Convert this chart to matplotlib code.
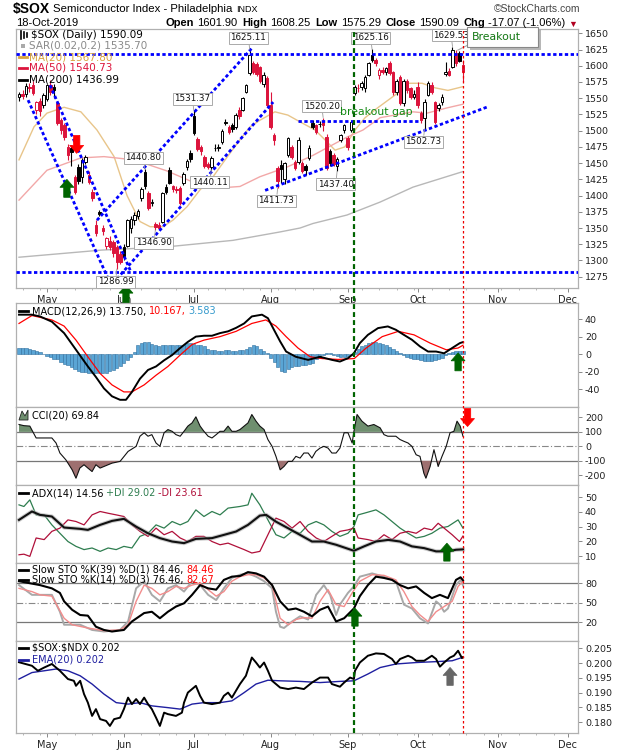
import numpy as np
import pandas as pd
import matplotlib
matplotlib.use("Agg")
import matplotlib.pyplot as plt
import matplotlib.transforms as mtransforms
import matplotlib.patheffects as pe
from matplotlib.patches import Rectangle, Polygon
from matplotlib.lines import Line2D
from matplotlib.text import Annotation

plt.rcParams['font.family'] = ['DejaVu Sans']

# ---------------- data ----------------
first_day = '2019-04-18'
last_axis_day = '2019-12-31'
market_holidays = ['2019-04-19', '2019-05-27', '2019-07-04', '2019-09-02', '2019-11-28', '2019-12-25']

opens = [1552, 1556, 1557, 1568, 1570, 1532, 1545, 1540, 1548, 1570,
         1568, 1543, 1516, 1509, 1475, 1474, 1428, 1444, 1428, 1452,
         1432, 1405, 1355, 1374, 1350, 1322, 1330, 1328, 1321, 1310,
         1320, 1322, 1350, 1362, 1368, 1396, 1436, 1404, 1388, 1356,
         1355, 1360, 1413, 1439, 1414, 1410, 1411, 1419, 1444, 1466,
         1523, 1487, 1475, 1459, 1448, 1444, 1474, 1474, 1482, 1514,
         1505, 1509, 1505, 1532, 1532, 1560, 1589, 1604, 1602, 1598,
         1572, 1581, 1539, 1493, 1443, 1447, 1425, 1462, 1475, 1452,
         1452, 1450, 1445, 1458, 1512, 1508, 1510, 1514, 1490, 1468,
         1462, 1445, 1485, 1501, 1488, 1501, 1558, 1566, 1568, 1566,
         1586, 1616, 1609, 1586, 1594, 1590, 1604, 1590, 1559, 1583,
         1543, 1576, 1565, 1552, 1567, 1527, 1519, 1555, 1570, 1544,
         1535, 1544, 1587, 1592, 1598, 1619, 1619, 1601.90]
highs = [1560, 1562, 1573, 1574, 1576, 1546, 1550, 1558, 1572, 1578,
         1572, 1546, 1520, 1512, 1480, 1478, 1432, 1449, 1458, 1462,
         1438, 1410, 1362, 1378, 1354, 1336, 1338, 1332, 1324, 1314,
         1325, 1364, 1368, 1374, 1380, 1413, 1440.80, 1407, 1395, 1360,
         1360, 1406, 1418, 1444, 1416, 1414, 1414, 1436, 1457, 1470,
         1531.37, 1490, 1478, 1462, 1452, 1461, 1480, 1479, 1503, 1518,
         1508, 1512, 1527, 1536, 1552, 1572, 1625.11, 1608, 1606, 1600,
         1590, 1584, 1560, 1497, 1446, 1455, 1452, 1490, 1478, 1455,
         1490, 1453, 1448, 1478, 1516, 1510, 1515, 1520.20, 1495, 1472,
         1466, 1460, 1495, 1511, 1492, 1515, 1570, 1572, 1577, 1586,
         1606, 1625.16, 1612, 1596, 1598, 1598, 1608, 1592, 1580, 1586,
         1580, 1580, 1568, 1562, 1575, 1530, 1548, 1576, 1575, 1546,
         1542, 1556, 1606, 1596, 1629.53, 1624, 1622, 1608.25]
lows = [1546, 1548, 1552, 1560, 1555, 1525, 1522, 1535, 1545, 1555,
        1550, 1508, 1495, 1485, 1455, 1445, 1403, 1418, 1420, 1448,
        1418, 1392, 1338, 1368, 1340, 1318, 1316, 1306, 1286.99, 1294,
        1300, 1320, 1342, 1355, 1364, 1392, 1410, 1378, 1384, 1346.90,
        1348, 1358, 1402, 1418, 1405, 1404, 1386, 1416, 1440, 1452,
        1494, 1468, 1462, 1442, 1441, 1440.11, 1468, 1469, 1480, 1508,
        1495, 1498, 1502, 1518, 1530, 1558, 1586, 1588, 1584, 1573,
        1568, 1536, 1502, 1478, 1411.73, 1420, 1418, 1460, 1456, 1440,
        1448, 1434, 1432, 1455, 1503, 1495, 1506, 1500, 1440, 1445,
        1445, 1437.40, 1482, 1496, 1470, 1498, 1555, 1560, 1562, 1560,
        1584, 1605, 1600, 1580, 1588, 1585, 1586, 1555, 1555, 1540,
        1538, 1558, 1548, 1548, 1535, 1512, 1502.73, 1553, 1556, 1510,
        1530, 1540, 1584, 1584, 1596, 1600, 1606, 1575.29]
closes = [1556, 1553, 1569, 1565, 1558, 1544, 1530, 1555, 1570, 1560,
          1562, 1512, 1501, 1490, 1462, 1467, 1406, 1422, 1455, 1459,
          1421, 1396, 1342, 1372, 1346, 1334, 1320, 1311, 1298, 1297,
          1305, 1362, 1364, 1370, 1376, 1410, 1414, 1381, 1390, 1351,
          1350, 1404, 1406, 1420, 1410, 1408, 1389, 1433, 1454, 1456,
          1497, 1471, 1468, 1445, 1444, 1458, 1473, 1475, 1500, 1512,
          1498, 1502, 1524, 1522, 1550, 1570, 1617, 1590, 1588, 1577,
          1585, 1539, 1506, 1486, 1422, 1441, 1450, 1488, 1460, 1443,
          1486, 1438, 1440, 1474, 1506, 1498, 1511, 1509, 1443, 1450,
          1448, 1457, 1493, 1509, 1475, 1513, 1567, 1565, 1574, 1583,
          1604, 1609, 1604, 1593, 1591, 1596, 1589, 1559, 1576, 1543,
          1576, 1562, 1552, 1557, 1539, 1516, 1544, 1573, 1559, 1513,
          1540, 1552, 1590, 1586, 1624, 1604, 1607, 1590.09]

# moving averages (trading-day position, value)
ma20_pos = [0, 4.3, 8.0, 12.9, 17.7, 22.3, 27.2, 30.9, 34.6, 37.5, 41.2, 44.0, 48.1, 51.8, 55.5, 59.5, 63.2,
            66.1, 68.9, 73.2, 76.9, 80.9, 84.7, 87.5, 90.4, 93.2, 96.1, 99.0, 101.8, 107.6, 111.3, 115.3, 119.0, 122.7, 127]
ma20_val = [1455, 1506, 1527, 1536, 1529, 1501, 1460, 1400, 1360, 1352, 1352, 1362, 1383, 1409, 1429, 1459, 1486,
            1506, 1516, 1529, 1524, 1512, 1501, 1486, 1470, 1475, 1501, 1520, 1532, 1555, 1573, 1573, 1566, 1562, 1567.80]
ma50_pos = [0, 8, 17.7, 24.3, 32.9, 42.3, 51.8, 58, 63.2, 68.9, 76.7, 84.1, 93.8, 98.4, 103.3, 112.7, 116.7, 122.4, 127]
ma50_val = [1393, 1439, 1458, 1460, 1455, 1438, 1416, 1412, 1414, 1429, 1444, 1462, 1490, 1501, 1520, 1529, 1527, 1535, 1540.73]
ma200_pos = [0, 23.6, 42.3, 61.2, 74.7, 80.4, 84.1, 93.8, 103.3, 112.7, 127]
ma200_val = [1305, 1316, 1321, 1331, 1344, 1350, 1357, 1370, 1390, 1413, 1436.99]

# MACD
macd_pos = [0, 3.7, 6.0, 9.4, 12.9, 16.3, 19.7, 22.0, 24.3, 26.6, 28.9, 30.6, 32.3, 34.6, 36.9, 39.2, 41.5, 43.8,
            46.1, 48.3, 50.6, 52.9, 55.2, 57.5, 59.8, 62.1, 64.4, 66.6, 69.5, 71.2, 72.9, 74.7, 76.4, 79.2, 82.7,
            86.1, 89.5, 91.8, 94.1, 95.8, 97.5, 99.8, 102.7, 105.5, 107.8, 110.1, 112.4, 114.7, 117.0, 119.3,
            121.6, 123.9, 126.1, 127]
macd_val = [45, 45, 43, 37, 24, 5, -14, -26, -39, -48, -52, -52, -43, -28, -18, -14, -7, -1, 7, 14, 20, 21, 21,
            24, 26, 30, 35, 43, 45, 41, 28, 14.5, 3, -3, -6.5, -3, -6.5, -8.4, -4.6, 1, 12.6, 22, 29.7, 31.6,
            27.8, 22, 16.4, 8.8, 3, 3, 1, 7, 12.6, 13.75]
signal_pos = [0, 3.7, 9.4, 12.9, 16.3, 19.7, 23.2, 26.6, 30.0, 32.3, 35.8, 39.2, 42.6, 46.1, 49.5, 52.9, 57.5,
              62.1, 66.6, 70.6, 73.5, 76.4, 79.8, 83.3, 86.7, 91.3, 95.9, 99.3, 103.9, 108.5, 113.0, 117.6,
              122.2, 125.6, 127]
signal_val = [35, 44, 39, 32, 16, -3, -22, -35, -43, -43, -35, -24, -14, -1, 11, 16, 20, 26, 35, 39, 32, 20, 7,
              -3, -5, -6, -5, 7, 20, 26, 22, 12.6, 5, 7, 10.167]
macd_hist = [7, 7, 7, 6, 5, 4, 2, 0, -2, -3,
             -5, -6, -9, -11, -12, -15, -17, -19, -20, -20,
             -21, -22, -22, -22, -21, -21, -19, -18, -16, -13,
             -10, -7, -3, 3, 10, 13, 14, 14, 12, 10,
             9, 10, 11, 11, 11, 10, 11, 11, 13, 13,
             12, 11, 10, 9, 6, 5, 5, 4, 4, 5,
             5, 4, 4, 5, 5, 6, 8, 10, 9, 6,
             4, 1, -4, -9, -15, -19, -20, -17, -15, -14,
             -13, -12, -12, -11, -10, -6, -4, -1, 1, 1,
             -1, -2, -3, -3, -2, -1, 3, 6, 9, 11,
             13, 14, 14, 13, 12, 10, 8, 6, 4, 1,
             -1, -3, -4, -5, -6, -7, -8, -8, -8, -7,
             -5, -4, -1, 1, 3, 4, 4, 3.583]

# CCI(20)
cci_pos = [0, 1.4, 3.1, 4.9, 6.0, 9.4, 10.6, 11.7, 13.4, 15.2, 16.3, 17.4, 18.6, 19.7, 20.9, 22.0, 23.2, 24.3,
           26.6, 28.9, 31.2, 33.5, 34.6, 35.8, 36.9, 38.0, 39.2, 40.3, 41.5, 42.6, 43.8, 44.9, 46.1, 47.2, 48.3,
           49.5, 50.6, 51.8, 52.9, 54.1, 55.2, 56.4, 57.5, 58.6, 59.8, 60.9, 62.1, 63.2, 64.4, 65.5, 66.6, 67.8,
           68.9, 70.1, 71.2, 72.4, 73.5, 74.7, 75.8, 77.0, 78.1, 79.2, 80.4, 81.5, 82.7, 83.8, 84.9, 86.1, 87.2,
           88.4, 89.5, 90.7, 91.8, 93.0, 94.1, 95.3, 95.8, 96.7, 98.1, 99.8, 101.5, 103.3, 104.4, 105.5, 107.8,
           109.0, 110.1, 111.3, 112.4, 113.6, 114.7, 115.8, 116.4, 117.6, 118.7, 119.9, 121.0, 122.2, 123.3,
           124.4, 125.3, 126.2, 127]
cci_val = [151, 143, 140, 58, 58, 58, 23, -46, -93, -162, -220, -150, -127, -150, -174, -127, -150, -139,
           -116, -104, -35, 0, 70, 94, 70, 81, 23, 0, 94, 116, 104, 81, 70, 104, 140,
           162, 204, 140, 104, 70, 58, 81, 104, 104, 140, 104, 104, 116, 140, 162, 220, 174,
           140, 116, 47, 0, -69, -162, -139, -104, -104, -69, -81, -46, -46, -81, -35, -12, 0,
           -12, -46, -46, -12, 94, 94, 23, 104, 220, 174, 140, 151, 128, 81, 70, 70,
           47, 35, 23, 0, -58, -69, -185, -220, -139, -23, -139, -69, 0, 94,
           104, 174, 140, 69.84]

# ADX(14)
adx_pos = [0, 3.7, 6.0, 9.4, 12.9, 17.5, 19.7, 23.2, 26.6, 30.0, 33.5, 36.9, 40.3, 43.8, 47.2, 50.6, 55.2, 58.6,
           62.1, 65.5, 68.9, 70.7, 73.5, 77.0, 80.4, 83.8, 87.2, 90.7, 95.8, 98.7, 102.1, 105.6, 109.0, 112.4,
           115.9, 119.3, 122.7, 125.0, 127]
adx_val = [34.6, 40.3, 38, 36.9, 29.4, 28.5, 27.8, 31.2, 33.9, 35.3, 30, 25.5, 22.2, 19.9, 18.8, 21.7, 22.2, 24.4,
           26.7, 31.2, 37.5, 38, 33.4, 28.9, 24.4, 19.9, 19.9, 17.7, 13.6, 16.6, 19.9, 21, 19.9, 16.6,
           15.4, 13.2, 13.2, 14.3, 14.56]
pdi_pos = [0, 1.4, 3.1, 4.9, 7.2, 9.4, 11.7, 14.0, 16.3, 18.6, 20.9, 23.2, 25.5, 27.8, 30.0, 32.3, 34.6, 36.9,
           39.2, 41.5, 43.8, 46.1, 48.3, 50.6, 52.9, 55.2, 57.5, 59.8, 63.2, 65.5, 66.6, 68.9, 71.2, 73.5, 75.8,
           78.1, 80.4, 82.7, 85.0, 87.2, 89.5, 91.8, 94.1, 95.8, 97.0, 98.7, 102.1, 104.4, 106.7, 109.0, 111.3,
           113.6, 115.9, 118.1, 120.4, 122.7, 125.6, 127]
pdi_val = [44.8, 43.7, 48.2, 38, 38, 31.2, 25.5, 19.9, 16.6, 14.4, 15.5, 13.2, 15.5, 14.4, 16.6, 15.5, 23.4, 25.5,
           31.2, 29, 33.5, 31.2, 33.5, 41.4, 36.9, 40.3, 38, 42.6, 43.7, 44.8, 52.7, 44.8, 34.6, 24.5, 22.3,
           26.8, 25.5, 31.2, 33.5, 31.2, 26.8, 23.4, 25.5, 30.1, 38, 39.1, 41.4, 38, 33.5, 29, 25.5,
           22.3, 23.4, 25.5, 29, 30.1, 34.6, 29.02]
mdi_pos = [0, 1.4, 3.1, 4.9, 7.2, 9.4, 11.7, 14.0, 16.3, 18.6, 20.9, 23.2, 25.5, 27.8, 30.0, 32.3, 34.6, 36.9,
           39.2, 41.5, 43.8, 46.1, 48.3, 50.6, 52.9, 55.2, 57.5, 59.8, 62.1, 64.4, 66.6, 68.9, 71.2, 73.5, 75.8,
           78.1, 80.4, 82.7, 85.0, 87.2, 89.5, 91.8, 94.1, 95.8, 97.0, 99.8, 102.1, 104.4, 106.7, 109.0, 111.3,
           113.6, 115.9, 118.1, 119.9, 121.6, 123.9, 126.0, 127]
mdi_val = [10.9, 11.3, 9.8, 22.3, 21.2, 26.8, 29, 34.6, 33.5, 31.2, 38, 40.3, 39.1, 38, 36.9, 31.2, 26.8, 23.4,
           29, 24.5, 26.8, 22.3, 19.9, 23.4, 23.4, 19.9, 17.7, 18.8, 16.6, 14.4, 12.1, 13.2, 24.5, 35.8, 33.5,
           29, 33.5, 26.8, 22.3, 19.9, 23.4, 26.8, 27.8, 29, 22.3, 21.2, 19.9, 24.5, 21.2, 25.5, 26.8,
           25.5, 29, 27.8, 32.3, 29, 24.5, 19.9, 23.61]

# Slow stochastics
sto39_pos = [0, 6.0, 9.4, 11.7, 12.9, 15.2, 17.5, 19.7, 22.0, 24.3, 26.6, 30.0, 32.3, 35.8, 38.0, 40.3, 42.6,
             44.9, 47.2, 49.5, 51.8, 54.1, 56.4, 58.6, 60.9, 63.2, 65.5, 67.8, 70.1, 72.4, 74.7, 77.0, 79.2,
             81.5, 83.8, 86.1, 88.4, 90.7, 93.0, 95.8, 97.5, 99.8, 102.1, 104.4, 106.7, 109.0, 111.3, 113.6,
             115.9, 118.1, 120.4, 122.7, 125.0, 126.3, 127]
sto39_val = [83, 77, 72, 65, 52, 39, 31, 30, 13, 8, 5.6, 8, 21, 34, 36, 26, 36, 44, 49, 62, 77, 72, 70, 85, 90,
             91, 97, 95, 90, 77, 52, 39, 41, 36, 29, 39, 44, 21, 26, 41, 60, 77, 90, 88, 85, 77, 72, 75, 65,
             57, 62, 57, 85, 89, 84.46]
sto14k_pos = [0, 3.7, 6.0, 9.4, 11.7, 12.9, 17.5, 20.9, 24.3, 28.9, 31.2, 33.5, 35.8, 38.0, 40.3, 42.6, 44.9,
              47.2, 49.5, 51.8, 54.1, 56.4, 58.6, 60.9, 63.2, 65.5, 67.8, 70.1, 72.4, 73.5, 74.7, 75.8, 78.1,
              80.4, 82.7, 85.0, 87.2, 89.0, 90.7, 91.8, 94.1, 95.8, 97.5, 101.0, 104.4, 107.8, 110.1, 112.4,
              114.7, 117.0, 119.3, 120.4, 121.6, 122.7, 125.0, 126.3, 127]
sto14k_val = [77, 62, 62, 62, 36, 16, 16, 8, 5.6, 8, 21, 72, 83, 62, 52, 72, 77, 67, 83, 77, 62, 54, 72, 88,
              93, 95, 90, 83, 72, 36, 13, 11, 21, 29, 24, 62, 77, 62, 31, 47, 65, 75, 90, 95, 90, 83, 47, 41,
              26, 18, 52, 47, 36, 41, 77, 85, 76.46]
sto14d_pos = [0, 3.7, 6.0, 9.4, 12.9, 15.2, 19.7, 24.3, 28.9, 31.2, 33.5, 35.8, 38.0, 40.3, 42.6, 44.9, 47.2,
              49.5, 51.8, 54.1, 56.4, 58.6, 60.9, 63.2, 65.5, 67.8, 70.1, 72.4, 74.7, 77.0, 79.2, 81.5, 83.8,
              86.1, 88.4, 90.7, 93.0, 95.3, 97.5, 101.0, 104.4, 107.8, 110.1, 112.4, 114.7, 117.0, 119.3, 121.6,
              123.9, 125.6, 127]
sto14d_val = [72, 67, 62, 60, 26, 16, 11, 7, 8, 16, 52, 77, 72, 62, 67, 75, 72, 77, 80, 70, 60, 67, 83, 90,
              93, 93, 88, 77, 26, 16, 24, 27, 26, 52, 70, 47, 44, 65, 83, 93, 92, 85, 67, 44, 31, 21, 36, 44,
              52, 75, 82.67]

# $SOX:$NDX ratio and its EMA(20)
ratio_pos = [0, 3.7, 5.4, 7.2, 9.4, 11.7, 14.0, 15.7, 16.3, 17.5, 18.6, 19.7, 20.9, 22.0, 23.2, 24.9, 26.0,
             27.2, 28.9, 30.0, 31.2, 32.3, 33.5, 34.6, 35.8, 36.9, 38.0, 39.2, 40.3, 41.5, 42.6, 44.9, 46.6,
             47.2, 48.3, 50.6, 51.8, 52.9, 55.2, 57.5, 58.6, 59.8, 60.9, 63.2, 64.9, 66.6, 67.8, 68.9, 70.1,
             71.2, 72.4, 74.7, 77.0, 79.2, 81.5, 83.8, 86.1, 88.4, 89.5, 91.8, 93.0, 94.7, 95.8, 96.1, 97.5,
             99.8, 102.1, 104.4, 106.7, 107.8, 109.0, 111.3, 112.4, 113.6, 115.9, 118.1, 119.3, 120.4, 121.6,
             123.3, 124.4, 125.6, 126.7, 127]
ratio_val = [0.2003, 0.1991, 0.1974, 0.1985, 0.1997, 0.1974, 0.1946, 0.1940, 0.1923, 0.1940, 0.1895, 0.1866,
             0.1821, 0.1844, 0.1810, 0.1804, 0.1787, 0.1810, 0.1815, 0.1844, 0.1883, 0.1861, 0.1878, 0.1861,
             0.1883, 0.1861, 0.1844, 0.1815, 0.1787, 0.1832, 0.1827, 0.1821, 0.1832, 0.1866, 0.1900, 0.1923,
             0.1889, 0.1866, 0.1861, 0.1866, 0.1889, 0.1900, 0.1883, 0.1929, 0.1957, 0.2019, 0.2002, 0.1985,
             0.2002, 0.1974, 0.1940, 0.1917, 0.1912, 0.1917, 0.1912, 0.1934, 0.1951, 0.1951, 0.1929, 0.1920,
             0.1934, 0.1951, 0.1946, 0.1974, 0.2002, 0.2025, 0.2033, 0.2031, 0.2014, 0.1997, 0.2014, 0.2025,
             0.2019, 0.2008, 0.2008, 0.2025, 0.2014, 0.1988, 0.2002, 0.2019, 0.2025, 0.2042, 0.2017, 0.2020]
ema_pos = [0, 3.7, 7.2, 10.6, 14.0, 17.5, 20.9, 24.3, 27.8, 31.2, 34.6, 38.0, 42.6, 46.1, 49.5, 52.9, 57.5,
           60.9, 64.4, 67.8, 71.2, 74.7, 80.4, 86.1, 91.8, 95.8, 99.8, 103.3, 107.8, 113.6, 119.3, 123.9, 127]
ema_val = [0.1946, 0.1968, 0.1974, 0.1980, 0.1974, 0.1957, 0.1929, 0.1895, 0.1866, 0.1861, 0.1866, 0.1855,
           0.1849, 0.1844, 0.1861, 0.1866, 0.1866, 0.1872, 0.1900, 0.1929, 0.1942, 0.1940, 0.1938, 0.1934,
           0.1938, 0.1940, 0.1963, 0.1985, 0.1997, 0.2002, 0.2005, 0.2008, 0.2020]

# annotated price extremes (candle position, which end)
label_days = [66, 50, 36, 55, 39, 28, 74, 87, 91, 101, 116, 124]
label_side = ['high', 'high', 'high', 'low', 'low', 'low', 'low', 'high', 'low', 'high', 'low', 'high']

# hand-drawn trend lines (position, price)
trend_x0 = [2.6, 8.9, 22.3, 26.9, 70.4]
trend_y0 = [1547, 1570, 1362, 1265, 1408]
trend_x1 = [26.9, 31.8, 66.6, 72.7, 134.2]
trend_y1 = [1255, 1285, 1627, 1544, 1537]
level_lines = [1618, 1282]
gap_level, gap_x0, gap_x1 = 1515, 79.8, 114.7
breakout_pos = 95.7
last_pos = 127

# ---------------- layout ----------------
days = pd.bdate_range(first_day, last_axis_day)
days = days[~days.isin(pd.to_datetime(market_holidays))]
N = len(closes)
xi = np.arange(N)

W, H = 620.0, 750.0
PL, PR = 16.0, 578.0
fig = plt.figure(figsize=(W / 100, H / 100), dpi=100)
fig.patch.set_facecolor('white')


def rect(top, bottom):
    return [PL / W, 1 - bottom / H, (PR - PL) / W, (bottom - top) / H]


ax_p = fig.add_axes(rect(29, 288))
ax_m = fig.add_axes(rect(303, 407))
ax_c = fig.add_axes(rect(407, 485))
ax_a = fig.add_axes(rect(485, 563))
ax_s = fig.add_axes(rect(563, 641))
ax_r = fig.add_axes(rect(641, 733))

XMIN, XMAX = -0.86, 159.9
month_pos = [i for i in range(1, len(days)) if days[i].month != days[i - 1].month]
month_lbl = [days[i].strftime('%b') for i in month_pos]
week_pos = [i for i in range(1, len(days)) if days[i].weekday() < days[i - 1].weekday() and i < XMAX]

RED = '#dc143c'
BLACK = '#000000'


def style(ax, yt, ylim, fmt='{:g}', xlabels=False):
    ax.set_yticks(yt)
    ax.set_yticklabels([fmt.format(v) for v in yt])
    ax.yaxis.tick_right()
    ax.tick_params(axis='y', which='both', labelsize=6.8, length=3, width=0.7, color='#888888',
                   labelcolor='#222222', pad=2)
    ax.set_xticks(month_pos)
    ax.set_xticks(week_pos, minor=True)
    ax.set_xticklabels(month_lbl if xlabels else [])
    ax.tick_params(axis='x', which='major', length=3, width=0.7, color='#888888', labelsize=7,
                   labelcolor='#222222', pad=2)
    ax.tick_params(axis='x', which='minor', length=1.5, width=0.6, color='#aaaaaa')
    for s in ax.spines.values():
        s.set_color('#b0b0b0')
        s.set_linewidth(0.9)
    ax.set_xlim(XMIN, XMAX)
    ax.set_ylim(*ylim)


def block_arrow(ax, x, y, up, color):
    wh, ws, hh, ht = 0.07, 0.032, 0.08, 0.18
    s = -1 if up else 1
    verts = [(0, 0), (-wh, s * hh), (-ws, s * hh), (-ws, s * ht), (ws, s * ht), (ws, s * hh), (wh, s * hh)]
    tr = fig.dpi_scale_trans + mtransforms.ScaledTranslation(x, y, ax.transData)
    ax.add_patch(Polygon(verts, closed=True, transform=tr, facecolor=color, edgecolor=color, lw=0.5,
                         zorder=8, clip_on=False))


# ---------------- price panel ----------------
for i in range(N):
    o, h, l, c = opens[i], highs[i], lows[i], closes[i]
    prev = closes[i - 1] if i > 0 else o
    col = BLACK if c >= prev else RED
    ax_p.vlines(i, l, h, color=col, lw=0.8, zorder=3)
    bottom = min(o, c)
    height = max(abs(c - o), 0.8)
    face = 'white' if c > o else col
    ax_p.add_patch(Rectangle((i - 0.36, bottom), 0.72, height, facecolor=face, edgecolor=col, lw=0.7, zorder=4))

ax_p.plot(ma20_pos, ma20_val, color='#e8c58a', lw=1.0, zorder=2)
ax_p.plot(ma50_pos, ma50_val, color='#f2a8a8', lw=1.0, zorder=2)
ax_p.plot(ma200_pos, ma200_val, color='#b8b8b8', lw=1.0, zorder=2)

blue_ls = (0, (1.2, 0.9))
for x0, y0, x1, y1 in zip(trend_x0, trend_y0, trend_x1, trend_y1):
    ax_p.plot([x0, x1], [y0, y1], color='#0000ff', lw=2.0, linestyle=blue_ls, zorder=5)
for lv in level_lines:
    ax_p.axhline(lv, color='#0000ff', lw=2.0, linestyle=blue_ls, zorder=5)
ax_p.plot([gap_x0, gap_x1], [gap_level, gap_level], color='#0000ff', lw=2.0, linestyle=blue_ls, zorder=5)

for i, side in zip(label_days, label_side):
    if side == 'high':
        val, dy, va = highs[i], 5, 'bottom'
    else:
        val, dy, va = lows[i], -6, 'top'
    ax_p.annotate(f'{val:.2f}', xy=(i, val), xytext=(-1, dy), textcoords='offset points', ha='center', va=va,
                  fontsize=6.3, color='#111111',
                  bbox=dict(boxstyle='square,pad=0.18', fc='white', ec='#aaaaaa', lw=0.7),
                  arrowprops=dict(arrowstyle='-', color='#999999', lw=0.6, shrinkA=0, shrinkB=0),
                  zorder=9, annotation_clip=False)

ax_p.text(91.8, 1529, 'breakout gap', color='#118811', fontsize=7.8, ha='left', va='center', zorder=9)

block_arrow(ax_p, 13.7, 1425, True, '#006400')
block_arrow(ax_p, 16.5, 1465, False, '#ff0000')
block_arrow(ax_p, 30.6, 1262, True, '#006400')

style(ax_p, list(range(1275, 1651, 25)), (1257.6, 1656.6), xlabels=True)

# ---------------- MACD ----------------
ax_m.bar(xi, macd_hist, width=0.9, color='#5aa5d5', edgecolor='#2f6f9f', linewidth=0.4, zorder=2)
ax_m.plot(signal_pos, signal_val, color='#ff0000', lw=0.9, zorder=3)
ax_m.plot(macd_pos, macd_val, color='#000000', lw=1.4, zorder=4)
block_arrow(ax_m, 125.6, 1.5, True, '#006400')
style(ax_m, [-40, -20, 0, 20, 40], (-60.2, 58.3))

# ---------------- CCI ----------------
cp = np.array(cci_pos)
cv = np.array(cci_val)
ax_c.fill_between(cp, 100, cv, where=cv > 100, interpolate=True, color='#6f8f6f', lw=0, zorder=2)
ax_c.fill_between(cp, -100, cv, where=cv < -100, interpolate=True, color='#9e7070', lw=0, zorder=2)
ax_c.axhline(100, color='#777777', lw=0.9, zorder=1)
ax_c.axhline(-100, color='#777777', lw=0.9, zorder=1)
ax_c.axhline(0, color='#888888', lw=0.8, linestyle=(0, (6, 2, 1, 2)), zorder=1)
ax_c.plot(cp, cv, color='#111111', lw=0.8, zorder=3)
block_arrow(ax_c, 128.3, 137, False, '#ff0000')
style(ax_c, [-200, -100, 0, 100, 200], (-267, 272))

# ---------------- ADX ----------------
ax_a.plot(pdi_pos, pdi_val, color='#2e7d4f', lw=0.9, zorder=2)
ax_a.plot(mdi_pos, mdi_val, color='#b0103a', lw=0.9, zorder=2)
ax_a.plot(adx_pos, adx_val, color='#aaaaaa', lw=3.0, zorder=3, alpha=0.6)
ax_a.plot(adx_pos, adx_val, color='#111111', lw=1.5, zorder=4)
block_arrow(ax_a, 122.4, 18.8, True, '#006400')
style(ax_a, [10, 20, 30, 40, 50], (5.3, 58.3))

# ---------------- Stochastics ----------------
ax_s.axhline(80, color='#777777', lw=0.9, zorder=1)
ax_s.axhline(20, color='#777777', lw=0.9, zorder=1)
ax_s.axhline(50, color='#888888', lw=0.8, linestyle=(0, (6, 2, 1, 2)), zorder=1)
ax_s.plot(sto14k_pos, sto14k_val, color='#a8a8a8', lw=1.4, zorder=2)
ax_s.plot(sto14d_pos, sto14d_val, color='#f28c8c', lw=1.0, zorder=3)
ax_s.plot(sto39_pos, sto39_val, color='#000000', lw=1.5, zorder=4)
block_arrow(ax_s, 96.1, 41.5, True, '#006400')
style(ax_s, [20, 50, 80], (-9, 111))

# ---------------- Ratio ----------------
ax_r.plot(ema_pos, ema_val, color='#1f1fa0', lw=1.0, zorder=2)
ax_r.plot(ratio_pos, ratio_val, color='#000000', lw=1.4, zorder=3)
block_arrow(ax_r, 123.3, 0.19854, True, '#666666')
style(ax_r, [0.180, 0.185, 0.190, 0.195, 0.200, 0.205], (0.1763, 0.2075), fmt='{:.3f}', xlabels=True)

# ---------------- vertical markers across panels ----------------
blend = mtransforms.blended_transform_factory(ax_p.transData, fig.transFigure)
top_f, bot_f = 1 - 29 / H, 1 - 733 / H
fig.add_artist(Line2D([breakout_pos, breakout_pos], [bot_f, top_f], transform=blend, color='#006400', lw=1.6,
                      linestyle=(0, (2.2, 1.4)), zorder=6))
fig.add_artist(Line2D([last_pos, last_pos], [bot_f, top_f], transform=blend, color='#ee0000', lw=0.9,
                      linestyle=(0, (2.0, 2.0)), zorder=6))

# ---------------- Breakout callout ----------------
box = Rectangle((467 / W, 1 - 47 / H), 71 / W, 20 / H, transform=fig.transFigure, facecolor='white',
                edgecolor='#888888', lw=0.8, zorder=10)
box.set_path_effects([pe.SimplePatchShadow(offset=(2, -2), shadow_rgbFace='#888888', alpha=0.6), pe.Normal()])
fig.add_artist(box)
ax_p.annotate('', xy=(125.5, highs[125]), xytext=(468 / W, 1 - 45 / H), textcoords='figure fraction',
              arrowprops=dict(arrowstyle='-', color='#aaaaaa', lw=0.8, shrinkA=0, shrinkB=0),
              annotation_clip=False, zorder=9)
fig.text(472 / W, 1 - 37 / H, 'Breakout', color='#117711', fontsize=7.8, ha='left', va='center', zorder=11)


# ---------------- texts ----------------
def fx(px):
    return px / W


def fy(py):
    return 1 - py / H


def chain(px, py, parts, size, family=None):
    """parts: (text, colour, weight, gap_points[, size])"""
    fam = {'family': family} if family else {}
    p0 = parts[0]
    s0 = p0[4] if len(p0) > 4 else size
    t = fig.text(fx(px), fy(py), p0[0], color=p0[1], fontweight=p0[2], fontsize=s0, va='center', ha='left',
                 zorder=12, **fam)
    for p in parts[1:]:
        sz = p[4] if len(p) > 4 else size
        a = Annotation(p[0], xy=(1, 0), xycoords=t, xytext=(p[3], 0), textcoords='offset points', ha='left',
                       va='bottom', color=p[1], fontweight=p[2], fontsize=sz, zorder=12, **fam)
        fig.add_artist(a)
        t = a
    return t


def icon_line(px0, px1, py, color, lw=2.0):
    fig.add_artist(Line2D([fx(px0), fx(px1)], [fy(py), fy(py)], transform=fig.transFigure, color=color, lw=lw,
                          zorder=12))


HF = ['Liberation Sans', 'DejaVu Sans']
fig.text(fx(13), fy(8.5), r'\$SOX', fontsize=10, fontweight='bold', family=HF, ha='left', va='center')
chain(53, 9, [('Semiconductor Index - Philadelphia', '#000000', 'normal', 0),
              ('INDX', '#000000', 'normal', 3, 6.5)], 8.2, HF)
fig.text(fx(580), fy(9), '©StockCharts.com', fontsize=7.5, color='#444444', ha='right', va='center', family=HF)
fig.text(fx(16), fy(23.5), '18-Oct-2019', fontsize=8, color='#000000', ha='left', va='center', family=HF)
chain(166, 23.5, [('Open', '#000', 'bold', 0), ('1601.90', '#000', 'normal', 2.2), ('High', '#000', 'bold', 3.5),
                  ('1608.25', '#000', 'normal', 2.2), ('Low', '#000', 'bold', 3.5),
                  ('1575.29', '#000', 'normal', 2.2), ('Close', '#000', 'bold', 3.5),
                  ('1590.09', '#000', 'normal', 2.2), ('Chg', '#000', 'bold', 3.5),
                  ('-17.07 (-1.06%)', '#000', 'normal', 2.2), ('▼', '#b00020', 'normal', 2.0, 6.5)], 8, HF)

LS = 7
# price legend
for k, xx in enumerate([21, 24, 27]):
    fig.add_artist(Line2D([fx(xx), fx(xx)], [fy(31 + k), fy(39 - k)], transform=fig.transFigure, color='#000',
                          lw=1.2, zorder=12))
chain(31, 35, [(r'\$SOX (Daily) 1590.09', '#000000', 'normal', 0)], 7.5)
fig.add_artist(Rectangle((fx(21), fy(48)), 4 / W, 4 / H, transform=fig.transFigure, facecolor='#aaaaaa',
                         edgecolor='none', zorder=12))
chain(29, 46, [('SAR(0.02,0.2) 1535.70', '#8a8a8a', 'normal', 0)], 7.5)
icon_line(19, 27, 57, '#d9a441')
chain(29, 57, [('MA(20) 1567.80', '#d9a441', 'normal', 0)], 7.5)
icon_line(19, 27, 68, RED)
chain(29, 68, [('MA(50) 1540.73', RED, 'normal', 0)], 7.5)
icon_line(19, 27, 80, '#000000')
chain(29, 80, [('MA(200) 1436.99', '#000000', 'normal', 0)], 7.5)

# MACD legend
icon_line(19, 28, 311, '#000000')
chain(32, 311, [('MACD(12,26,9) 13.750,', '#000000', 'normal', 0), ('10.167,', '#ff0000', 'normal', 2),
                ('3.583', '#3399cc', 'normal', 2)], LS)
# CCI legend
fig.add_artist(Polygon([(fx(19), fy(420)), (fx(22), fy(411)), (fx(25), fy(416)), (fx(28), fy(410)),
                        (fx(28), fy(420))], closed=True, transform=fig.transFigure, facecolor='#6f8f6f',
                       edgecolor='#222222', lw=0.6, zorder=12))
chain(32, 415, [('CCI(20) 69.84', '#000000', 'normal', 0)], LS)
# ADX legend
icon_line(19, 28, 493, '#000000')
chain(32, 493, [('ADX(14) 14.56', '#000000', 'normal', 0), ('+DI 29.02', '#2e7d4f', 'normal', 2),
                ('-DI 23.61', '#b0103a', 'normal', 2)], LS)
# STO legend
icon_line(19, 28, 570, '#000000')
chain(32, 570, [('Slow STO %K(39) %D(1) 84.46,', '#000000', 'normal', 0), ('84.46', '#ff0000', 'normal', 2)], LS)
icon_line(19, 28, 580, '#000000')
chain(32, 580, [('Slow STO %K(14) %D(3) 76.46,', '#000000', 'normal', 0), ('82.67', '#ff0000', 'normal', 2)], LS)
# Ratio legend
icon_line(19, 28, 648, '#000000')
chain(32, 648, [(r'\$SOX:\$NDX 0.202', '#000000', 'normal', 0)], LS)
icon_line(19, 28, 660, '#1f1fa0')
chain(32, 660, [('EMA(20) 0.202', '#1f1fa0', 'normal', 0)], LS)

fig.savefig('out.png', dpi=100, facecolor='white')
